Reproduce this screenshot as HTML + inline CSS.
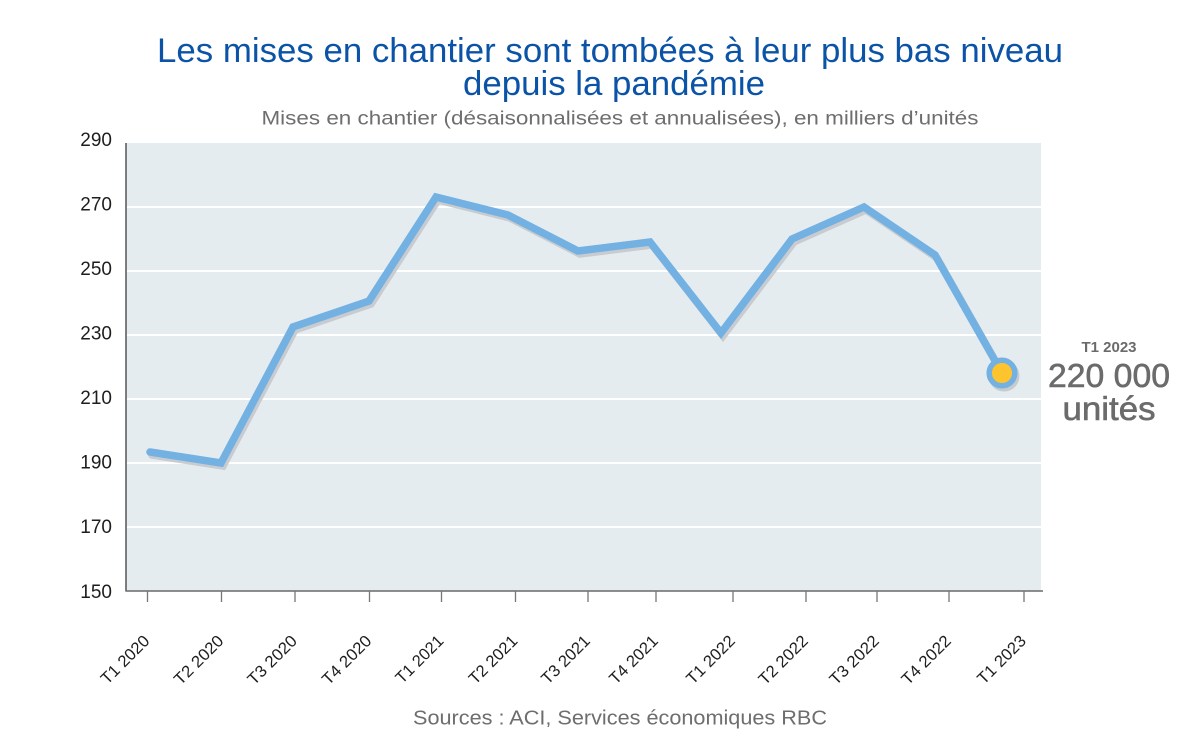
<!DOCTYPE html>
<html>
<head>
<meta charset="utf-8">
<style>
  html, body { margin: 0; padding: 0; background: #ffffff; }
  svg { display: block; }
  text { font-family: "Liberation Sans", "DejaVu Sans", sans-serif; }
</style>
</head>
<body>
<svg width="1200" height="754" viewBox="0 0 1200 754" xmlns="http://www.w3.org/2000/svg">
  <rect x="0" y="0" width="1200" height="754" fill="#ffffff"/>

  <!-- Title -->
  <text x="610" y="62" text-anchor="middle" font-size="34.5" fill="#0b53a6" textLength="906" lengthAdjust="spacingAndGlyphs">Les mises en chantier sont tombées à leur plus bas niveau</text>
  <text x="614" y="95" text-anchor="middle" font-size="34.5" fill="#0b53a6" textLength="302" lengthAdjust="spacingAndGlyphs">depuis la pandémie</text>
  <text x="620" y="124.5" text-anchor="middle" font-size="19.5" fill="#6e6e6e" textLength="717" lengthAdjust="spacingAndGlyphs">Mises en chantier (désaisonnalisées et annualisées), en milliers d’unités</text>

  <!-- Plot area -->
  <rect x="126" y="143" width="915" height="448" fill="#e5ecf0"/>
  <g stroke="#ffffff" stroke-width="2">
    <line x1="127" y1="207" x2="1041" y2="207"/>
    <line x1="127" y1="271" x2="1041" y2="271"/>
    <line x1="127" y1="335" x2="1041" y2="335"/>
    <line x1="127" y1="399" x2="1041" y2="399"/>
    <line x1="127" y1="463" x2="1041" y2="463"/>
    <line x1="127" y1="527" x2="1041" y2="527"/>
  </g>

  <!-- Axes -->
  <line x1="126" y1="143" x2="126" y2="591.5" stroke="#555555" stroke-width="1.5"/>
  <line x1="125.5" y1="591" x2="1043" y2="591" stroke="#6a6a6a" stroke-width="1.5"/>
  <g stroke="#777777" stroke-width="1.3">
    <line x1="147.5" y1="591" x2="147.5" y2="602"/>
    <line x1="221.5" y1="591" x2="221.5" y2="602"/>
    <line x1="295" y1="591" x2="295" y2="602"/>
    <line x1="369.5" y1="591" x2="369.5" y2="602"/>
    <line x1="441.5" y1="591" x2="441.5" y2="602"/>
    <line x1="515.5" y1="591" x2="515.5" y2="602"/>
    <line x1="588" y1="591" x2="588" y2="602"/>
    <line x1="656" y1="591" x2="656" y2="602"/>
    <line x1="733" y1="591" x2="733" y2="602"/>
    <line x1="806" y1="591" x2="806" y2="602"/>
    <line x1="877" y1="591" x2="877" y2="602"/>
    <line x1="949" y1="591" x2="949" y2="602"/>
    <line x1="1024" y1="591" x2="1024" y2="602"/>
  </g>

  <!-- Y labels -->
  <g font-size="19" fill="#1e1e1e" text-anchor="end">
    <text x="112" y="145.8">290</text>
    <text x="112" y="210.4">270</text>
    <text x="112" y="274.9">250</text>
    <text x="112" y="339.5">230</text>
    <text x="112" y="404.1">210</text>
    <text x="112" y="468.7">190</text>
    <text x="112" y="533.2">170</text>
    <text x="112" y="597.8">150</text>
  </g>

  <!-- X labels -->
  <g font-size="16.5" fill="#1e1e1e" text-anchor="end">
    <text transform="translate(150.5,642) rotate(-45)" textLength="61" lengthAdjust="spacingAndGlyphs">T1 2020</text>
    <text transform="translate(224.5,642) rotate(-45)" textLength="62" lengthAdjust="spacingAndGlyphs">T2 2020</text>
    <text transform="translate(298,642) rotate(-45)" textLength="62" lengthAdjust="spacingAndGlyphs">T3 2020</text>
    <text transform="translate(372.5,642) rotate(-45)" textLength="62" lengthAdjust="spacingAndGlyphs">T4 2020</text>
    <text transform="translate(444.5,642) rotate(-45)" textLength="60" lengthAdjust="spacingAndGlyphs">T1 2021</text>
    <text transform="translate(518.5,642) rotate(-45)" textLength="61" lengthAdjust="spacingAndGlyphs">T2 2021</text>
    <text transform="translate(591,642) rotate(-45)" textLength="61" lengthAdjust="spacingAndGlyphs">T3 2021</text>
    <text transform="translate(659,642) rotate(-45)" textLength="61" lengthAdjust="spacingAndGlyphs">T4 2021</text>
    <text transform="translate(736,642) rotate(-45)" textLength="61" lengthAdjust="spacingAndGlyphs">T1 2022</text>
    <text transform="translate(809,642) rotate(-45)" textLength="62" lengthAdjust="spacingAndGlyphs">T2 2022</text>
    <text transform="translate(880,642) rotate(-45)" textLength="62" lengthAdjust="spacingAndGlyphs">T3 2022</text>
    <text transform="translate(952,642) rotate(-45)" textLength="62" lengthAdjust="spacingAndGlyphs">T4 2022</text>
    <text transform="translate(1027,642) rotate(-45)" textLength="61" lengthAdjust="spacingAndGlyphs">T1 2023</text>
  </g>

  <!-- Series shadow -->
  <g transform="translate(2,3)" opacity="0.9">
    <polyline points="150,452 221,463 293,327 369,301 436,197 508,215 578,251 650,242 721,333 792,239 864,207 935,255 1002,373"
      fill="none" stroke="#c4c8cb" stroke-width="7.5" stroke-linecap="round" stroke-linejoin="miter"/>
    <circle cx="1002" cy="373" r="15.5" fill="#c4c8cb"/>
  </g>
  <!-- Series -->
  <polyline points="150,452 221,463 293,327 369,301 436,197 508,215 578,251 650,242 721,333 792,239 864,207 935,255 1002,373"
    fill="none" stroke="#74b1e3" stroke-width="7.5" stroke-linecap="round" stroke-linejoin="miter"/>
  <circle cx="1002" cy="373" r="12.8" fill="#fec42d" stroke="#74b1e3" stroke-width="5.5"/>

  <!-- Annotation -->
  <text x="1109" y="352" text-anchor="middle" font-size="15" font-weight="bold" fill="#6b6b6b">T1 2023</text>
  <text x="1109" y="387" text-anchor="middle" font-size="33" fill="#6b6b6b" stroke="#6b6b6b" stroke-width="0.6" textLength="122" lengthAdjust="spacingAndGlyphs">220 000</text>
  <text x="1109" y="420" text-anchor="middle" font-size="33" fill="#6b6b6b" stroke="#6b6b6b" stroke-width="0.6" textLength="93" lengthAdjust="spacingAndGlyphs">unités</text>

  <!-- Source -->
  <text x="620" y="724.5" text-anchor="middle" font-size="20" fill="#6e6e6e" textLength="414" lengthAdjust="spacingAndGlyphs">Sources : ACI, Services économiques RBC</text>
</svg>
</body>
</html>
